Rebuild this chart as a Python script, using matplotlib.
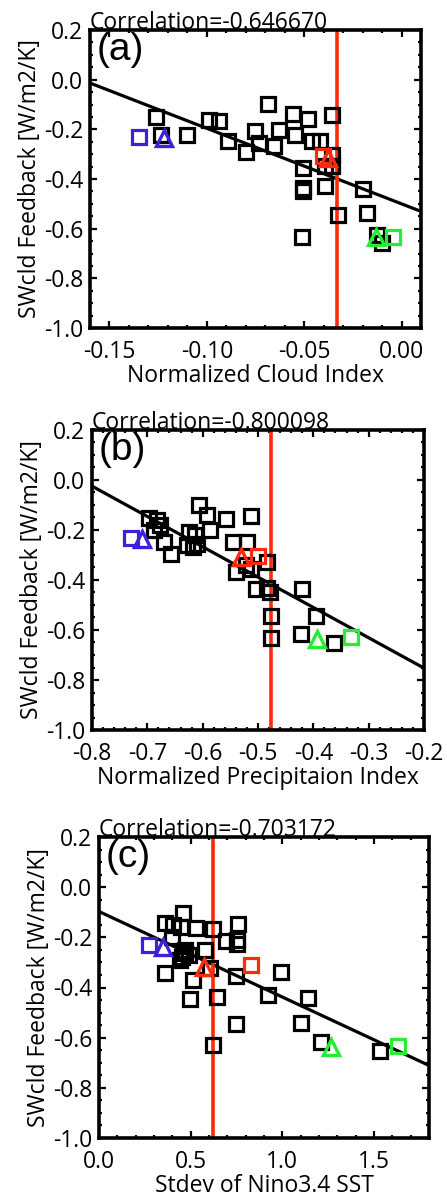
import matplotlib
matplotlib.use("Agg")
import matplotlib.pyplot as plt
import numpy as np
from matplotlib.ticker import MultipleLocator

plt.rcParams['font.family'] = ['Open Sans', 'DejaVu Sans']

# ---------------- data ----------------
ylabel = "SWcld Feedback [W/m2/K]"

# Panel (a): Normalized Cloud Index
a_x = [-0.126, -0.1236, -0.110, -0.0989, -0.0938, -0.0892, -0.0798, -0.0755, -0.0733, -0.0685,
       -0.0655, -0.0630, -0.0557, -0.0546, -0.0478, -0.0460, -0.0418, -0.0358, -0.0358, -0.0505,
       -0.0392, -0.0358, -0.0505, -0.0505, -0.0392, -0.0198, -0.0326, -0.0177, -0.0510, -0.0126,
       -0.0101]
a_y = [-0.150, -0.221, -0.221, -0.164, -0.168, -0.248, -0.291, -0.208, -0.255, -0.099,
       -0.267, -0.201, -0.138, -0.221, -0.158, -0.248, -0.248, -0.141, -0.302, -0.354,
       -0.349, -0.349, -0.435, -0.447, -0.427, -0.439, -0.544, -0.536, -0.632, -0.624,
       -0.656]
a_obs_sq_x = [-0.135, -0.0402, -0.0044]
a_obs_sq_y = [-0.231, -0.309, -0.632]
a_obs_tr_x = [-0.122, -0.0377, -0.0131]
a_obs_tr_y = [-0.235, -0.314, -0.632]
a_vline = -0.033
a_fit = [-0.50, -3.04]          # intercept, slope
a_corr = "Correlation=-0.646670"

# Panel (b): Normalized Precipitation Index
b_x = [-0.697, -0.682, -0.677, -0.688, -0.670, -0.658, -0.625, -0.628, -0.613, -0.610,
       -0.607, -0.592, -0.586, -0.558, -0.513, -0.546, -0.519, -0.483, -0.540, -0.522,
       -0.513, -0.504, -0.483, -0.478, -0.420, -0.477, -0.395, -0.477, -0.423, -0.362,
       -0.617]
b_y = [-0.154, -0.161, -0.181, -0.201, -0.248, -0.295, -0.208, -0.262, -0.221, -0.255,
       -0.099, -0.141, -0.201, -0.158, -0.145, -0.248, -0.248, -0.329, -0.369, -0.342,
       -0.356, -0.436, -0.432, -0.447, -0.436, -0.544, -0.544, -0.631, -0.617, -0.651,
       -0.270]
b_obs_sq_x = [-0.729, -0.500, -0.332]
b_obs_sq_y = [-0.232, -0.306, -0.630]
b_obs_tr_x = [-0.709, -0.530, -0.393]
b_obs_tr_y = [-0.235, -0.309, -0.635]
b_vline = -0.476
b_fit = [-0.995, -1.213]
b_corr = "Correlation=-0.800098"

# Panel (c): Stdev of Nino3.4 SST
c_x = [0.358, 0.404, 0.458, 0.449, 0.531, 0.622, 0.758, 0.750, 0.695, 0.755,
       0.468, 0.490, 0.440, 0.577, 0.358, 0.513, 0.495, 0.644, 0.746, 0.746,
       0.622, 0.995, 0.922, 1.140, 1.104, 1.213, 1.531, 0.604, 0.470, 0.400,
       0.450]
c_y = [-0.144, -0.151, -0.104, -0.158, -0.164, -0.168, -0.147, -0.211, -0.214, -0.225,
       -0.251, -0.270, -0.290, -0.251, -0.344, -0.371, -0.444, -0.437, -0.355, -0.544,
       -0.628, -0.337, -0.431, -0.440, -0.541, -0.617, -0.653, -0.324, -0.262, -0.200,
       -0.280]
c_obs_sq_x = [0.270, 0.827, 1.631]
c_obs_sq_y = [-0.231, -0.311, -0.633]
c_obs_tr_x = [0.349, 0.571, 1.267]
c_obs_tr_y = [-0.237, -0.320, -0.637]
c_vline = 0.622
c_fit = [-0.097, -0.341]
c_corr = "Correlation=-0.703172"

obs_colors = ['#3f1fd8', '#ff2a0a', '#22ee33']

panels = [
    dict(x=a_x, y=a_y, sqx=a_obs_sq_x, sqy=a_obs_sq_y, trx=a_obs_tr_x, try_=a_obs_tr_y,
         vline=a_vline, fit=a_fit, corr=a_corr, letter="(a)", xlabel="Normalized Cloud Index",
         xlim=(-0.16, 0.01), xmaj=0.05, xmin=0.01, fmt="{:.2f}",
         rect=(90, 30, 421, 328)),
    dict(x=b_x, y=b_y, sqx=b_obs_sq_x, sqy=b_obs_sq_y, trx=b_obs_tr_x, try_=b_obs_tr_y,
         vline=b_vline, fit=b_fit, corr=b_corr, letter="(b)", xlabel="Normalized Precipitaion Index",
         xlim=(-0.8, -0.2), xmaj=0.1, xmin=0.02, fmt="{:.1f}",
         rect=(92, 430, 424, 730)),
    dict(x=c_x, y=c_y, sqx=c_obs_sq_x, sqy=c_obs_sq_y, trx=c_obs_tr_x, try_=c_obs_tr_y,
         vline=c_vline, fit=c_fit, corr=c_corr, letter="(c)", xlabel="Stdev of Nino3.4 SST",
         xlim=(0.0, 1.8), xmaj=0.5, xmin=0.1, fmt="{:.1f}",
         rect=(99, 837, 429, 1138)),
]

W, H = 447, 1200
fig = plt.figure(figsize=(W / 100, H / 100), dpi=100)
fs = 16.5

for p in panels:
    l, t, r, b = p['rect']
    ax = fig.add_axes([l / W, 1 - b / H, (r - l) / W, (b - t) / H])
    ax.set_xlim(*p['xlim'])
    ax.set_ylim(-1.0, 0.2)

    # regression line
    xs = np.array(p['xlim'])
    ax.plot(xs, p['fit'][0] + p['fit'][1] * xs, color='black', lw=2.3, zorder=2)
    # reference vertical line
    ax.axvline(p['vline'], color='#ff2a0a', lw=2.6, zorder=2.2)
    # model points
    ax.plot(p['x'], p['y'], ls='none', marker='s', ms=9.5, mfc='none', mec='black',
            mew=2.3, zorder=3)
    # observations
    for i, col in enumerate(obs_colors):
        ax.plot(p['sqx'][i], p['sqy'][i], ls='none', marker='s', ms=9.5, mfc='none',
                mec=col, mew=2.3, zorder=4)
        ax.plot(p['trx'][i], p['try_'][i], ls='none', marker='^', ms=11, mfc='none',
                mec=col, mew=2.4, zorder=4)

    ax.xaxis.set_major_locator(MultipleLocator(p['xmaj']))
    ax.xaxis.set_minor_locator(MultipleLocator(p['xmin']))
    ax.yaxis.set_major_locator(MultipleLocator(0.2))
    ax.yaxis.set_minor_locator(MultipleLocator(0.05))
    fmt = p['fmt']
    ax.xaxis.set_major_formatter(plt.FuncFormatter(
        lambda v, pos, f=fmt: f.format(v) if abs(v) > 1e-9 else f.format(0.0)))
    ax.yaxis.set_major_formatter(plt.FuncFormatter(
        lambda v, pos: "{:.1f}".format(v) if abs(v) > 1e-9 else "0.0"))

    ax.tick_params(which='both', direction='in', top=True, right=True, width=1.6,
                   labelsize=fs, colors='black')
    ax.tick_params(which='major', length=5)
    ax.tick_params(which='minor', length=2.5)
    ax.tick_params(axis='x', which='major', pad=9)
    ax.tick_params(axis='y', which='major', pad=5)
    for s in ax.spines.values():
        s.set_linewidth(2.6)
        s.set_zorder(5)

    ax.set_xlabel(p['xlabel'], fontsize=fs, labelpad=0)
    ax.set_ylabel(ylabel, fontsize=fs, labelpad=1)

    ax.annotate(p['corr'], xy=(0, 1), xycoords='axes fraction', xytext=(0, 1),
                textcoords='offset points', ha='left', va='baseline', fontsize=fs,
                zorder=1, annotation_clip=False)
    ax.annotate(p['letter'], xy=(0, 1), xycoords='axes fraction', xytext=(4.5, -1.5),
                textcoords='offset points', ha='left', va='top', fontsize=28,
                family='Liberation Sans', zorder=6)

fig.savefig("out.png", dpi=100)
